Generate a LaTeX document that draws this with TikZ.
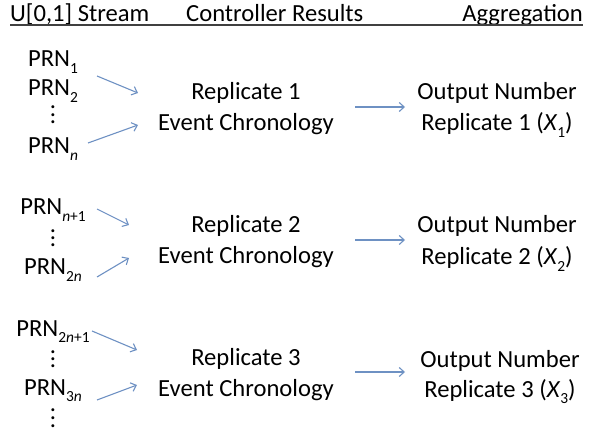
\documentclass[tikz,border=0pt]{standalone}
\usepackage{fontspec}
\setmainfont{Carlito}
\usetikzlibrary{arrows.meta}
\definecolor{arrowblue}{RGB}{110,145,195}
\newcommand\prnsub[1]{\raisebox{-0.27em}{\fontsize{15.5}{15.5}\selectfont #1}}
\newcommand\dotcol[1]{\vbox{\offinterlineskip\hbox{.}\vskip#1\hbox{.}\vskip#1\hbox{.}}}
\tikzset{
  txt/.style={anchor=base,inner sep=0pt,font=\fontsize{24.7}{24.7}\selectfont},
  dotsnode/.style={anchor=center,inner sep=0pt,font=\fontsize{24.7}{24.7}\selectfont},
  flow/.style={draw=arrowblue,line width=1.1bp,-{Straight Barb[length=5bp,width=9bp,line width=1.1bp]}}
}
\begin{document}
\begin{tikzpicture}[x=1bp,y=-1bp]
\useasboundingbox (0,0) rectangle (589,433);
% header
\node[txt,anchor=base west] (h1) at (10,22) {U[0,1] Stream};
\node[txt,anchor=base west] (h2) at (186,22) {Controller Results};
\node[txt,anchor=base east] (h3) at (583,22) {Aggregation};
\coordinate (ulA) at (10,25);
\coordinate (ulB) at (583,25);
\draw[line width=1.1bp,black!75] (ulA) -- (ulB);

% group 1
\node[txt] (p1) at (53,67) {PRN\prnsub{1}};
\node[txt] (p2) at (53,96) {PRN\prnsub{2}};
\node[dotsnode] (d1) at (53,115) {\dotcol{4.5bp}};
\node[txt] (pn) at (53,154) {PRN\prnsub{\textit{n}}};
\node[txt] (r1a) at (246,100) {Replicate 1};
\node[txt] (r1b) at (246,131) {Event Chronology};
\node[txt] (o1a) at (497,100) {Output Number};
\node[txt] (o1b) at (497,131) {Replicate 1 (\textit{X}\prnsub{1})};
\coordinate (a1s) at (97,76);  \coordinate (a1e) at (138,93);
\coordinate (a2s) at (88,143); \coordinate (a2e) at (138,125);
\coordinate (a3s) at (355,107); \coordinate (a3e) at (405,107);
\draw[flow] (a1s) -- (a1e);
\draw[flow] (a2s) -- (a2e);
\draw[flow] (a3s) -- (a3e);

% group 2
\node[txt] (q1) at (53,215) {PRN\prnsub{\textit{n}+1}};
\node[dotsnode] (d2) at (53,238) {\dotcol{4bp}};
\node[txt] (q2) at (53,275) {PRN\prnsub{2\textit{n}}};
\node[txt] (r2a) at (246,233) {Replicate 2};
\node[txt] (r2b) at (246,264) {Event Chronology};
\node[txt] (o2a) at (497,233) {Output Number};
\node[txt] (o2b) at (497,265) {Replicate 2 (\textit{X}\prnsub{2})};
\coordinate (b1s) at (97,209);  \coordinate (b1e) at (129,225);
\coordinate (b2s) at (97,277);  \coordinate (b2e) at (129,258);
\coordinate (b3s) at (355,240); \coordinate (b3e) at (405,240);
\draw[flow] (b1s) -- (b1e);
\draw[flow] (b2s) -- (b2e);
\draw[flow] (b3s) -- (b3e);

% group 3
\node[txt] (s1) at (53,336) {PRN\prnsub{2\textit{n}+1}};
\node[dotsnode] (d3) at (53,359) {\dotcol{4bp}};
\node[txt] (s2) at (53,395) {PRN\prnsub{3\textit{n}}};
\node[dotsnode] (d4) at (53,418) {\dotcol{5bp}};
\node[txt] (r3a) at (246,365) {Replicate 3};
\node[txt] (r3b) at (246,396) {Event Chronology};
\node[txt] (o3a) at (500,367) {Output Number};
\node[txt] (o3b) at (500,397) {Replicate 3 (\textit{X}\prnsub{3})};
\coordinate (c1s) at (92,331);  \coordinate (c1e) at (137,350);
\coordinate (c2s) at (97,400);  \coordinate (c2e) at (137,385);
\coordinate (c3s) at (355,372); \coordinate (c3e) at (405,372);
\draw[flow] (c1s) -- (c1e);
\draw[flow] (c2s) -- (c2e);
\draw[flow] (c3s) -- (c3e);
\end{tikzpicture}
\end{document}
